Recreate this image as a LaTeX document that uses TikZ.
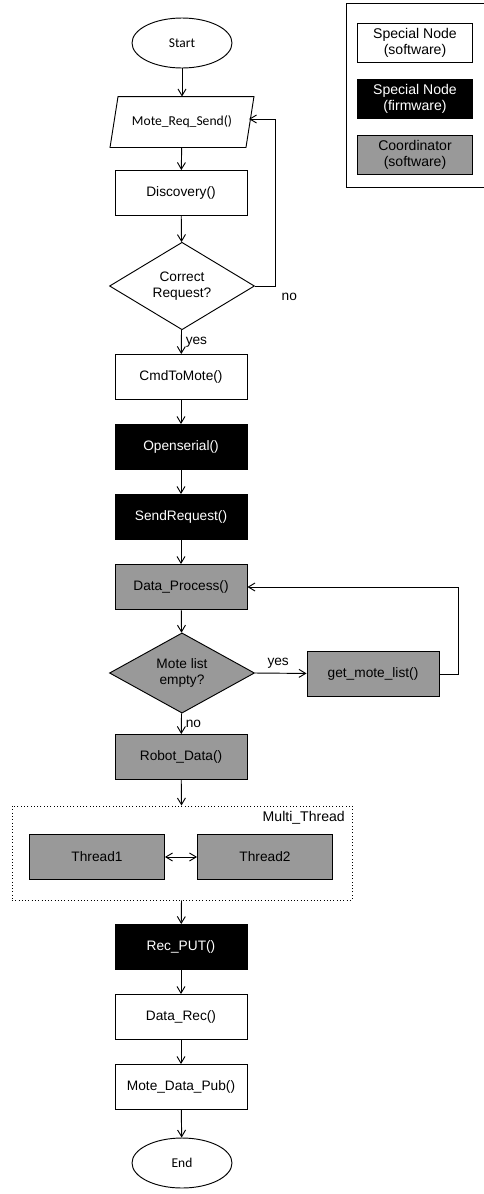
\documentclass[tikz,border=0pt]{standalone}
\usepackage{fontspec}
\setmainfont{Liberation Sans}
\newfontfamily\calibrifont{Carlito}
\usetikzlibrary{shapes.geometric,arrows.meta}

\definecolor{coordgray}{RGB}{153,153,153}

\tikzset{
	txt/.style={font=\fontsize{11.7}{14}\selectfont},
	box/.style={draw, rectangle, minimum width=3.96cm, minimum height=1.35cm, txt},
	soft/.style={box, fill=white},
	firm/.style={box, fill=black, text=white},
	coord/.style={box, fill=coordgray},
	decision/.style={draw, diamond, minimum width=4.35cm, minimum height=2.3cm, inner sep=0pt, align=center, txt},
	terminal/.style={draw, ellipse, minimum width=3cm, minimum height=1.5cm, font=\calibrifont\fontsize{11.5}{14}\selectfont},
	keybox/.style={draw, rectangle, minimum width=3.45cm, minimum height=1.17cm, align=center, font=\fontsize{12}{13.5}\selectfont},
	flow/.style={->, >={Straight Barb[length=2mm,width=2.4mm]}}
}

\begin{document}
\begin{tikzpicture}[x=0.03cm, y=-0.03cm, line width=0.8pt]
	\useasboundingbox (0,0) rectangle (484,1194);

	% Define the legend
	\draw (346,3) rectangle (484,187);
	\node[keybox, fill=white] (keysoft) at (415,43) {Special Node\\(software)};
	\node[keybox, fill=black, text=white] (keyfirm) at (415,99) {Special Node\\(firmware)};
	\node[keybox, fill=coordgray] (keycoord) at (415,155) {Coordinator\\(software)};

	% Define the steps
	\node[terminal] (start) at (182,43) {Start};
	\node[minimum width=4.05cm, minimum height=1.5cm, font=\calibrifont\fontsize{11.6}{14}\selectfont] (send) at (182,122) {Mote\_Req\_Send()};
	\draw ([xshift=0.12cm]send.north west) -- ([xshift=0.12cm]send.north east)
		-- ([xshift=-0.12cm]send.south east) -- ([xshift=-0.12cm]send.south west) -- cycle;
	\node[soft] (discovery) at (181,193) {Discovery()};
	\node[decision] (correct) at (182,286) {Correct\\Request?};
	\node[soft] (cmd) at (181,377) {CmdToMote()};
	\node[firm] (openserial) at (181,447) {Openserial()};
	\node[firm] (request) at (181,517) {SendRequest()};
	\node[coord] (process) at (181,587) {Data\_Process()};
	\node[decision, fill=coordgray] (empty) at (182,673) {Mote list\\empty?};
	\node[coord] (getlist) at (373,674) {get\_mote\_list()};
	\node[coord] (robot) at (181,757) {Robot\_Data()};
	\node[draw, dotted, minimum width=10.2cm, minimum height=2.82cm] (multi) at (182,853) {};
	\node[txt, anchor=north east, font=\fontsize{12}{14}\selectfont] (multilabel) at ([xshift=-1mm, yshift=-0.5mm]multi.north east) {Multi\_Thread};
	\node[coord, minimum width=4.05cm] (thread1) at (97,857) {Thread1};
	\node[coord, minimum width=4.05cm] (thread2) at (265,857) {Thread2};
	\node[firm] (recput) at (181,947) {Rec\_PUT()};
	\node[soft] (datarec) at (181,1017) {Data\_Rec()};
	\node[soft] (pub) at (181,1087) {Mote\_Data\_Pub()};
	\node[terminal] (end) at (182,1163) {End};

	% Define the edges
	\draw[flow] (start) -- (send);
	\draw[flow] (send) -- (discovery);
	\draw[flow] (discovery) -- (correct);
	\draw[flow] (correct) -- node[txt, right] {yes} (cmd);
	\draw[flow] (correct.east) -- ++(20,0) node[txt, below right=2pt] {no} |- ([xshift=-0.03cm, yshift=0.09cm]send.east);
	\draw[flow] (cmd) -- (openserial);
	\draw[flow] (openserial) -- (request);
	\draw[flow] (request) -- (process);
	\draw[flow] (process) -- (empty);
	\draw[flow] (empty.east) -- node[txt, above, pos=0.45] {yes} (getlist);
	\draw[flow] (getlist.east) -- ++(19,0) |- (process.east);
	\draw[flow] (empty) -- node[txt, right] {no} (robot);
	\draw[flow] (robot) -- (multi);
	\draw[flow, <->] (thread1) -- (thread2);
	\draw[flow] (multi) -- (recput);
	\draw[flow] (recput) -- (datarec);
	\draw[flow] (datarec) -- (pub);
	\draw[flow] (pub) -- (end);
\end{tikzpicture}
\end{document}
